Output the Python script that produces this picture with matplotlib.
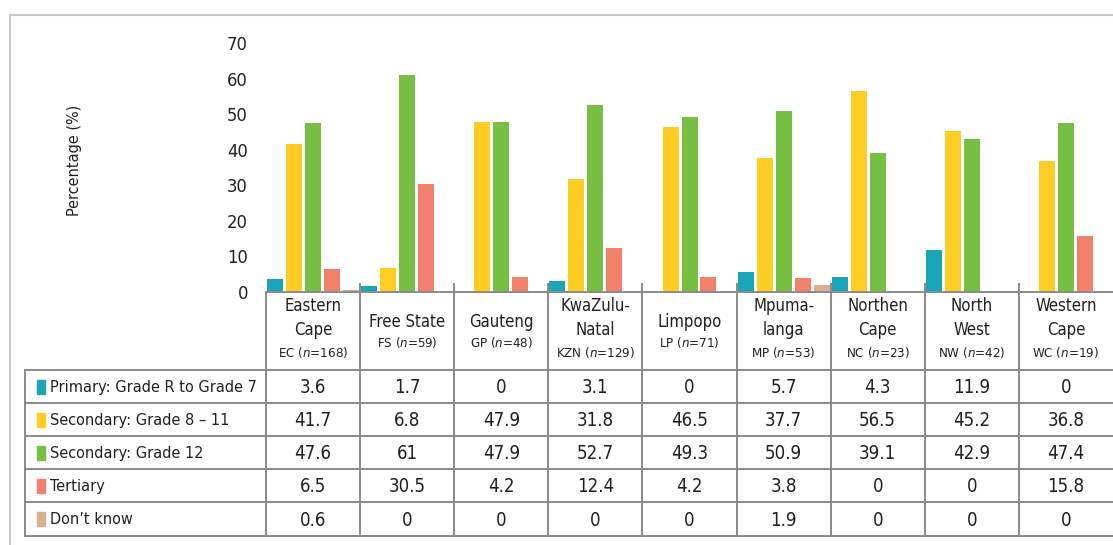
import matplotlib
matplotlib.use('Agg')
import matplotlib.pyplot as plt
from matplotlib import font_manager
from matplotlib.patches import Rectangle
import numpy as np

# look for a condensed sans face, otherwise fall back to Roboto
narrow = None
for f in font_manager.fontManager.ttflist:
    nm = f.name.lower()
    if ('narrow' in nm or 'condensed' in nm or f.stretch in ('condensed', 'semi-condensed')) \
            and 'mono' not in nm and 'serif' not in nm:
        narrow = f
        break
if narrow is not None:
    base_family = narrow.name
    plt.rcParams['font.stretch'] = narrow.stretch
else:
    base_family = 'Roboto'
plt.rcParams['font.family'] = [base_family, 'DejaVu Sans']
plt.rcParams['font.weight'] = 'medium'
plt.rcParams['mathtext.fontset'] = 'custom'
plt.rcParams['mathtext.it'] = base_family + ':italic:medium'
plt.rcParams['mathtext.rm'] = base_family + ':medium'

# data
regions = ['Eastern\nCape', 'Free State', 'Gauteng', 'KwaZulu-\nNatal', 'Limpopo',
           'Mpuma-\nlanga', 'Northen\nCape', 'North\nWest', 'Western\nCape']
abbrevs = ['EC', 'FS', 'GP', 'KZN', 'LP', 'MP', 'NC', 'NW', 'WC']
sample_n = [168, 59, 48, 129, 71, 53, 23, 42, 19]

series_names = ['Primary: Grade R to Grade 7', 'Secondary: Grade 8 \u2013 11',
                'Secondary: Grade 12', 'Tertiary', 'Don\u2019t know']
primary = [3.6, 1.7, 0, 3.1, 0, 5.7, 4.3, 11.9, 0]
secondary_8_11 = [41.7, 6.8, 47.9, 31.8, 46.5, 37.7, 56.5, 45.2, 36.8]
secondary_12 = [47.6, 61, 47.9, 52.7, 49.3, 50.9, 39.1, 42.9, 47.4]
tertiary = [6.5, 30.5, 4.2, 12.4, 4.2, 3.8, 0, 0, 15.8]
dont_know = [0.6, 0, 0, 0, 0, 1.9, 0, 0, 0]
series = [primary, secondary_8_11, secondary_12, tertiary, dont_know]
colors = ['#1aa5b8', '#fdcd23', '#76bf43', '#f2806a', '#d8b08c']
txt_c = '#231f20'

W, H = 1113, 545
fig = plt.figure(figsize=(W / 100, H / 100), dpi=100)
renderer = fig.canvas.get_renderer()

# font size so the longest row label fits its column (~207 px)
probe = fig.text(0, 0, series_names[0], fontsize=14)
scale = min(1.0, 207 / probe.get_window_extent(renderer).width)
probe.remove()
fs_label = 14 * scale
fs_val = min(14, fs_label * 1.15)
fs_head = min(14, fs_label * 1.03)
fs_small = min(10.5, fs_label * 0.82)

# layout in pixels
col_left = 266
col_w = (W - col_left) / len(regions)
base_y = 292
top_y = 43
ax = fig.add_axes([col_left / W, 1 - base_y / H, 1 - col_left / W, (base_y - top_y) / H])

x = np.arange(len(regions))
bw = 16 / col_w
step = 19 / col_w
for k, (vals, c) in enumerate(zip(series, colors)):
    ax.bar(x + (k - 2) * step, vals, width=bw, color=c, label=series_names[k])

ax.set_xlim(-0.5, len(regions) - 0.5)
ax.set_ylim(0, 70)
ax.set_yticks(range(0, 71, 10))
for s in ax.spines.values():
    s.set_visible(False)
ax.tick_params(axis='y', length=0, pad=13, labelsize=fs_val * 0.98, labelcolor=txt_c)
ax.set_xticks([])
ax.patch.set_alpha(0)

# overlay in pixel coordinates for frame and table
ov = fig.add_axes([0, 0, 1, 1])
ov.set_xlim(0, W)
ov.set_ylim(H, 0)
ov.axis('off')
ov.patch.set_alpha(0)

# outer frame
ov.plot([10, W], [15, 15], color='#c8c8c8', lw=1.5)
ov.plot([10, 10], [15, H], color='#c8c8c8', lw=1.5)

ov.text(75, 160, 'Percentage (%)', rotation=90, ha='center', va='center',
        fontsize=fs_label * 1.0, color=txt_c)

grid_c = '#8a8a8a'
lw = 1.4
label_left = 25
row_tops = [370, 403, 436, 469, 502, 536]
bounds = [col_left + i * col_w for i in range(len(regions) + 1)]

ov.plot([col_left, W], [base_y, base_y], color=grid_c, lw=lw, zorder=5)
for b in bounds[1:-1]:
    ov.plot([b, b], [base_y - 8, base_y], color=grid_c, lw=lw)
for b in bounds[:-1]:
    ov.plot([b, b], [base_y, row_tops[-1]], color=grid_c, lw=lw)
ov.plot([label_left, label_left], [row_tops[0], row_tops[-1]], color=grid_c, lw=lw)
for y in row_tops:
    ov.plot([label_left, W], [y, y], color=grid_c, lw=lw)

# header cells
for i, (name, ab, n) in enumerate(zip(regions, abbrevs, sample_n)):
    cx = col_left + (i + 0.5) * col_w
    two = '\n' in name
    name_y = 318 if two else 322
    ab_y = 353 if two else 343
    ov.text(cx, name_y, name, ha='center', va='center', fontsize=fs_head,
            color=txt_c, linespacing=1.45)
    ov.text(cx, ab_y, ab + ' ($n$=' + str(n) + ')', ha='center', va='center',
            fontsize=fs_small, color=txt_c)

# body rows
for r, (nm, vals, c) in enumerate(zip(series_names, series, colors)):
    cy = (row_tops[r] + row_tops[r + 1]) / 2
    ov.add_patch(Rectangle((37, cy - 7), 8, 14, color=c))
    ov.text(50, cy + 1, nm, ha='left', va='center', fontsize=fs_label, color=txt_c)
    for i, v in enumerate(vals):
        cx = col_left + (i + 0.5) * col_w
        ov.text(cx, cy + 1, f'{v:g}', ha='center', va='center', fontsize=fs_val,
                color=txt_c)

fig.savefig('out.png', dpi=100)
